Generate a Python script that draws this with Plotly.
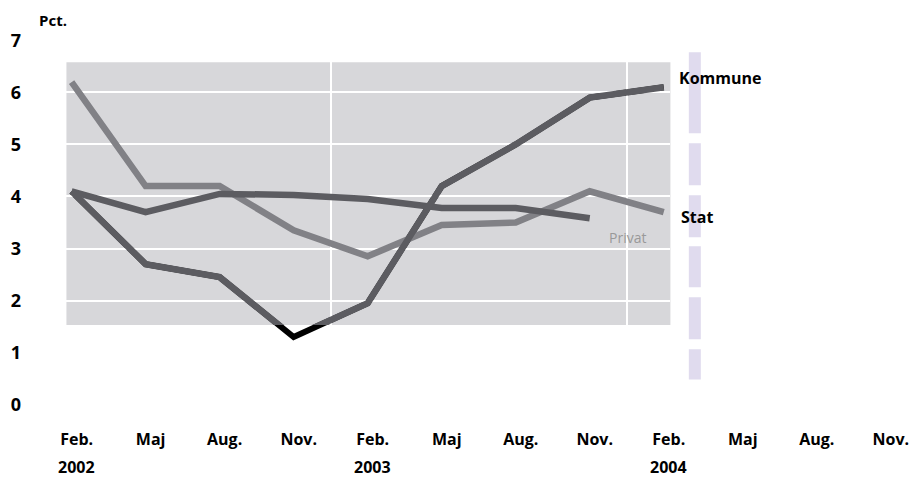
import plotly.graph_objects as go

# ---- data ----
months = ["Feb.", "Maj", "Aug.", "Nov.", "Feb.", "Maj", "Aug.", "Nov.", "Feb.", "Maj", "Aug.", "Nov."]
years = ["2002", "2003", "2004"]
year_pos = [0, 4, 8]
kommune = [4.1, 2.7, 2.45, 1.3, 1.95, 4.2, 5.0, 5.9, 6.1]
stat = [6.2, 4.2, 4.2, 3.35, 2.85, 3.45, 3.5, 4.1, 3.7]
privat = [4.1, 3.7, 4.05, 4.03, 3.95, 3.78, 3.78, 3.58]
y_ticks = [0, 1, 2, 3, 4, 5, 6, 7]

# ---- layout constants ----
X_RANGE = [-0.4, 11.3]
Y_RANGE = [-0.2, 7.2]
BOX_X = [-0.07, 8.09]
BOX_Y = [1.53, 6.58]

def frac(v, r):
    return (v - r[0]) / (r[1] - r[0])

FONT = "Open Sans, sans-serif"
DARK = "#5c5c61"
MID = "#818186"

def bold(size):
    return dict(family=FONT, size=size, color="black", weight=700)

fig = go.Figure()

# black part (visible only outside the grey box)
fig.add_trace(go.Scatter(x=list(range(len(kommune))), y=kommune, mode="lines",
                         line=dict(color="black", width=6), xaxis="x", yaxis="y",
                         showlegend=False, hoverinfo="skip"))

for vals, col in [(stat, MID), (privat, DARK), (kommune, DARK)]:
    fig.add_trace(go.Scatter(x=list(range(len(vals))), y=vals, mode="lines",
                             line=dict(color=col, width=6.5), xaxis="x2", yaxis="y2",
                             showlegend=False))

fig.update_layout(
    width=913, height=471,
    margin=dict(l=34, r=13, t=22, b=64, autoexpand=False),
    paper_bgcolor="white", plot_bgcolor="rgba(0,0,0,0)",
    showlegend=False,
    xaxis=dict(range=X_RANGE, tickvals=list(range(len(months))), ticktext=months,
               showgrid=False, zeroline=False, showline=False, ticks="", automargin=False,
               ticklabelstandoff=13, ticklabelshift=5, tickfont=bold(16)),
    yaxis=dict(range=Y_RANGE, tickvals=y_ticks, showgrid=False, zeroline=False,
               showline=False, ticks="", ticklabelstandoff=20, automargin=False,
               tickfont=bold(18)),
    xaxis2=dict(range=BOX_X, domain=[frac(BOX_X[0], X_RANGE), frac(BOX_X[1], X_RANGE)],
                anchor="y2", showticklabels=False, ticks="", tickvals=[3.5, 7.5], automargin=False,
                showgrid=True, gridcolor="white", gridwidth=2, zeroline=False),
    yaxis2=dict(range=BOX_Y, domain=[frac(BOX_Y[0], Y_RANGE), frac(BOX_Y[1], Y_RANGE)],
                anchor="x2", showticklabels=False, ticks="", tickvals=[2, 3, 4, 5, 6], automargin=False,
                showgrid=True, gridcolor="white", gridwidth=2, zeroline=False),
)

fig.add_shape(type="rect", xref="x2 domain", yref="y2 domain", x0=0, x1=1, y0=0, y1=1,
              fillcolor="#d7d7da", line=dict(width=0), layer="below")
fig.add_shape(type="line", xref="x", yref="y", x0=8.42, x1=8.42, y0=6.77, y1=0.48,
              line=dict(color="#e0dbee", width=12,
                        dash="81px,10px,42px,10px,42px,9px,41px,10px,42px,10px,31px,20px"),
              layer="above")

for yr, xp in zip(years, year_pos):
    fig.add_annotation(text=yr, x=xp, xref="x", y=-0.135, yref="paper", showarrow=False,
                       xshift=5, yanchor="middle", font=bold(16))

fig.add_annotation(text="Pct.", x=-0.006, xref="paper", y=1.025, yref="paper",
                   xanchor="left", yanchor="middle", showarrow=False, font=bold(15))
fig.add_annotation(text="Kommune", x=8.18, y=6.27, xanchor="left", yanchor="middle",
                   showarrow=False, font=bold(16))
fig.add_annotation(text="Stat", x=8.2, y=3.6, xanchor="left", yanchor="middle",
                   showarrow=False, font=bold(16))
fig.add_annotation(text="Privat", x=7.51, y=3.22, xanchor="center", yanchor="middle",
                   showarrow=False, font=dict(family=FONT, size=14, color="#999999"))

fig.write_html("out.html")
